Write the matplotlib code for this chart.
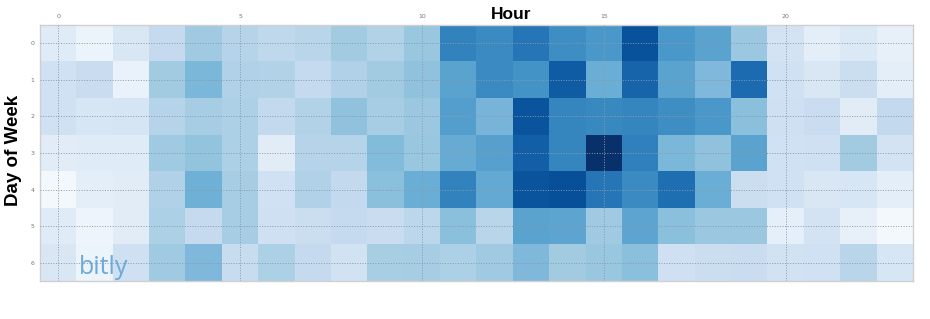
import numpy as np
import matplotlib
matplotlib.use("Agg")
import matplotlib.pyplot as plt

hours = list(range(24))
days = list(range(7))
x_ticks = [0, 5, 10, 15, 20]

day0 = [0.12, 0.06, 0.15, 0.25, 0.37, 0.30, 0.27, 0.29, 0.36, 0.31, 0.39, 0.68, 0.65, 0.73, 0.64, 0.60, 0.87, 0.60, 0.55, 0.38, 0.18, 0.10, 0.14, 0.08]
day1 = [0.20, 0.23, 0.07, 0.36, 0.46, 0.32, 0.31, 0.25, 0.32, 0.36, 0.41, 0.55, 0.65, 0.62, 0.83, 0.50, 0.80, 0.55, 0.45, 0.77, 0.20, 0.15, 0.22, 0.10]
day2 = [0.20, 0.16, 0.17, 0.30, 0.35, 0.33, 0.26, 0.31, 0.41, 0.35, 0.38, 0.57, 0.47, 0.86, 0.67, 0.66, 0.67, 0.64, 0.60, 0.42, 0.21, 0.23, 0.11, 0.26]
day3 = [0.11, 0.12, 0.12, 0.37, 0.40, 0.33, 0.11, 0.30, 0.30, 0.44, 0.39, 0.51, 0.56, 0.82, 0.67, 1.00, 0.69, 0.46, 0.41, 0.55, 0.20, 0.21, 0.36, 0.18]
day4 = [0.02, 0.10, 0.11, 0.32, 0.49, 0.35, 0.20, 0.32, 0.26, 0.42, 0.50, 0.68, 0.52, 0.86, 0.88, 0.73, 0.65, 0.76, 0.50, 0.22, 0.20, 0.15, 0.16, 0.10]
day5 = [0.12, 0.05, 0.11, 0.33, 0.25, 0.35, 0.21, 0.22, 0.25, 0.23, 0.28, 0.42, 0.29, 0.55, 0.54, 0.37, 0.54, 0.42, 0.38, 0.38, 0.09, 0.18, 0.08, 0.02]
day6 = [0.15, 0.06, 0.21, 0.37, 0.45, 0.24, 0.33, 0.25, 0.19, 0.34, 0.35, 0.33, 0.37, 0.45, 0.36, 0.39, 0.42, 0.21, 0.22, 0.23, 0.19, 0.20, 0.29, 0.16]

data = np.array([day0, day1, day2, day3, day4, day5, day6])

fig = plt.figure(figsize=(9.3, 3.19), dpi=100)
ax = fig.add_axes([40/930, 1-281/319, (913-40)/930, (281-25)/319])
ax.imshow(data, cmap="Blues", vmin=0, vmax=1, aspect="auto", interpolation="nearest")

ax.xaxis.tick_top()
ax.set_xticks(x_ticks)
ax.set_xticklabels([str(t) for t in x_ticks])
ax.set_yticks(days)
ax.set_yticklabels([str(d) for d in days])
ax.tick_params(axis="both", length=0, labelsize=4.5, labelcolor="#777777", pad=4)
ax.grid(True, linestyle=":", color="#8a9aaa", linewidth=0.7)
ax.set_axisbelow(False)
for s in ax.spines.values():
    s.set_color("#d0d0d0")
    s.set_linewidth(1.0)

fig.text(511/930, 1-19/319, "Hour", ha="center", va="baseline", fontsize=12.5,
         fontweight="bold", family="Liberation Sans")
fig.text(14/930, 1-150/319, "Day of Week", ha="center", va="center", rotation=90,
         fontsize=13.5, fontweight="bold", family="Liberation Sans")
fig.text(104/930, 1-274/319, "bitly", ha="center", va="baseline", fontsize=18,
         color="#6fa9d8", family="Open Sans")

fig.savefig("out.png", dpi=100)
